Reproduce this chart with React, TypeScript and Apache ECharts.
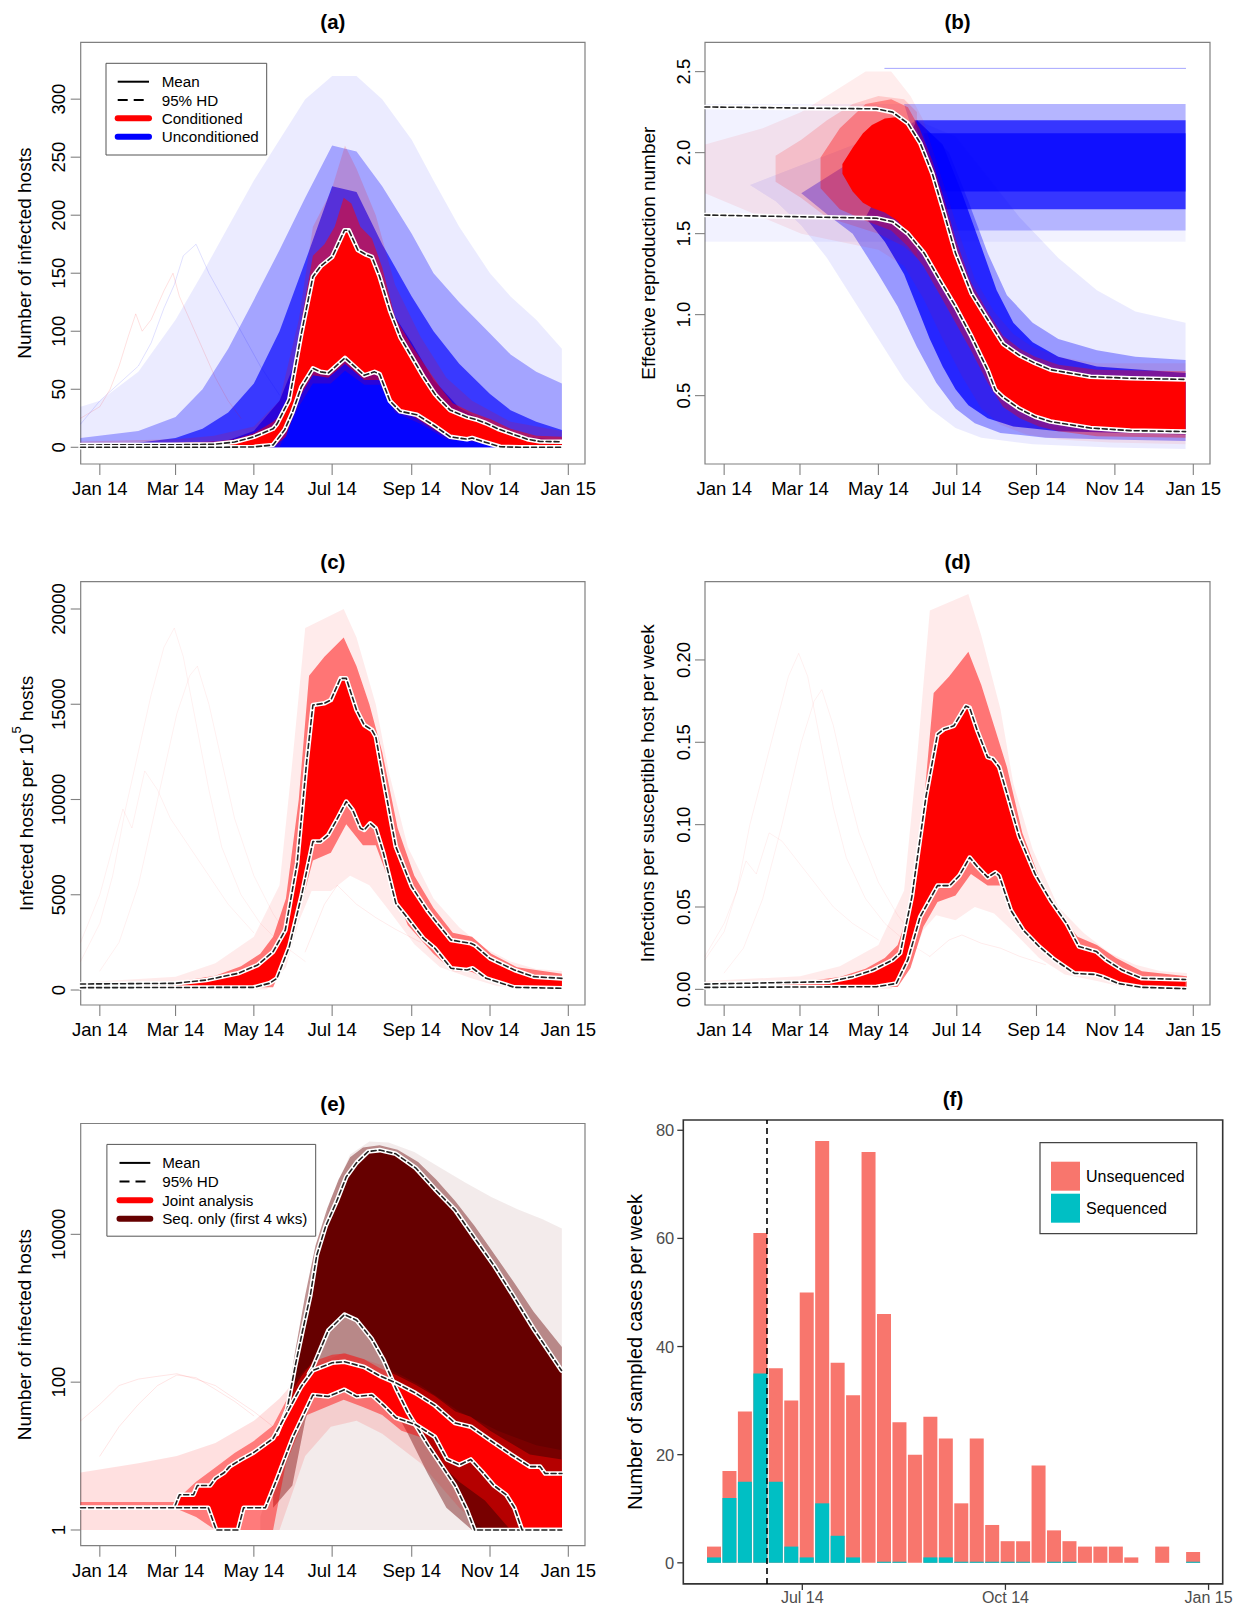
import React, { useEffect, useRef } from 'react';
import * as echarts from 'echarts';

// ---------- axes ----------
const rTickDates = ['2014-01-01', '2014-03-01', '2014-05-01', '2014-07-01', '2014-09-01', '2014-11-01', '2015-01-01'];
const rTickLabels = ['Jan 14', 'Mar 14', 'May 14', 'Jul 14', 'Sep 14', 'Nov 14', 'Jan 15'];
const fTickDates = ['2014-07-01', '2014-10-01', '2015-01-01'];
const fTickLabels = ['Jul 14', 'Oct 14', 'Jan 15'];
const aTicks = [0, 50, 100, 150, 200, 250, 300];
const bTicks = [0.5, 1.0, 1.5, 2.0, 2.5];
const cTicks = [0, 5000, 10000, 15000, 20000];
const dTicks = [0, 0.05, 0.1, 0.15, 0.2];
const eTicks = [1, 100, 10000];
const fTicks = [0, 20, 40, 60, 80];

// ---------- panel (a): infected hosts, [day of 2014, value] ----------
const aUpperHD = [[-15, 2], [60, 2.2], [89, 2.6], [105, 4.5], [120, 9], [135, 16], [138, 20], [147.6, 41], [157, 98], [166, 147], [172, 156], [181, 164], [190.6, 187], [194, 187], [201, 170], [207.5, 166], [212, 164], [218, 147], [226, 118], [234, 95], [243, 78], [252, 61], [261, 46], [265, 41], [273, 32], [286, 26], [293, 24], [301, 20.7], [310, 16], [320, 12], [333, 7], [343, 5], [360, 4.8]];
const aLowerHD = [[-15, 0], [89, 0], [120, 0.3], [135, 2], [144, 15], [150, 30], [157, 52], [166, 68], [172, 65], [178, 64], [191, 77], [200, 68], [206, 62], [214, 65], [218, 63], [226, 40], [234, 31], [247, 28], [260, 19], [273, 9], [286, 7], [290, 8], [299, 4.8], [312, 0.5], [327, 0], [360, 0]];
const aBlueFaint = [[-15, 35], [0, 40], [30, 65], [59, 110], [80, 150], [100, 190], [120, 230], [140, 265], [160, 300], [181, 320], [200, 320], [220, 300], [243, 265], [260, 230], [280, 190], [304, 150], [320, 130], [340, 110], [360, 85]];
const aBlueMid = [[-15, 8], [30, 14], [59, 26], [80, 50], [100, 85], [120, 127], [140, 170], [160, 215], [181, 260], [200, 255], [220, 225], [243, 184], [260, 150], [280, 125], [304, 98], [320, 80], [340, 65], [360, 55]];
const aBlueDense = [[-15, 3], [30, 4], [59, 8], [80, 16], [100, 30], [120, 55], [140, 100], [160, 160], [181, 225], [200, 220], [220, 175], [243, 130], [260, 100], [280, 72], [304, 46], [320, 32], [340, 22], [360, 15]];
const aBlueCore = [[-15, 1], [59, 2], [100, 6], [120, 14], [140, 40], [160, 95], [181, 150], [200, 160], [220, 130], [243, 90], [260, 58], [280, 34], [304, 19], [320, 12], [340, 8], [360, 6]];
const aRedFaintUpper = [[-15, 5], [59, 7], [89, 10], [120, 18], [140, 40], [155, 110], [166, 190], [180, 220], [191, 260], [200, 240], [215, 200], [230, 140], [250, 95], [270, 60], [290, 40], [320, 22], [360, 14]];
const aRedFaintLower = [[-15, 0], [140, 0], [155, 35], [166, 55], [180, 55], [191, 66], [206, 54], [218, 54], [230, 30], [250, 20], [270, 7], [290, 5], [310, 0], [360, 0]];
const aRedFuzzUpper = [[-15, 3], [59, 4], [89, 5], [105, 7], [120, 12], [135, 22], [145, 32], [152, 60], [158, 115], [166, 165], [175, 175], [183, 190], [190, 215], [196, 210], [203, 190], [212, 180], [220, 155], [230, 112], [243, 88], [255, 68], [265, 52], [275, 38], [290, 30], [305, 24], [320, 16], [340, 10], [360, 9]];
const aRedFuzzLower = [[-15, 0], [135, 0], [145, 9], [155, 42], [166, 62], [178, 60], [191, 72], [206, 58], [218, 58], [230, 35], [245, 26], [261, 15], [274, 7], [290, 6], [304, 2], [360, 0]];
const aFaintRed1 = [[-15, 25], [0, 35], [8, 50], [15, 70], [22, 95], [28, 115], [33, 100], [40, 110], [50, 135], [57, 150], [62, 130], [70, 110], [80, 85], [90, 60], [100, 40], [110, 25]];
const aFaintBlue1 = [[-15, 20], [0, 40], [15, 55], [30, 70], [40, 90], [50, 120], [58, 140], [65, 165], [75, 175], [85, 150], [95, 130], [110, 100], [125, 70], [140, 45]];

// ---------- panel (b): effective reproduction number ----------
const bUpperHD = [[-15, 2.282], [118.6, 2.27], [131, 2.25], [143, 2.18], [152.5, 2.06], [162, 1.87], [171, 1.63], [180, 1.38], [192.5, 1.13], [205, 0.97], [217, 0.82], [229.5, 0.75], [242, 0.70], [254, 0.66], [285, 0.617], [316, 0.607], [359, 0.60]];
const bLowerHD = [[-15, 1.615], [118.6, 1.595], [131, 1.574], [143, 1.50], [155.6, 1.38], [168, 1.21], [180, 1.05], [192.5, 0.864], [205, 0.658], [211, 0.535], [217, 0.49], [229.5, 0.42], [242, 0.37], [254, 0.34], [285, 0.30], [316, 0.284], [359, 0.278]];
const bFlatFaintLower = [[-15, 1.45], [359, 1.45]];
const bFlatFaintUpper = [[-15, 2.3], [359, 2.3]];
const bFlatMidLower = [[170, 1.52], [359, 1.52]];
const bFlatMidUpper = [[140, 2.3], [359, 2.3]];
const bFlatCoreLower = [[168, 1.65], [359, 1.65]];
const bFlatCoreUpper = [[148, 2.2], [359, 2.2]];
const bFlatInnerLower = [[168, 1.76], [359, 1.76]];
const bFlatInnerUpper = [[155, 2.12], [359, 2.12]];
const bTopLine = [[125, 2.52], [359, 2.52]];
const bLobeFaintUpper = [[150, 2.2], [180, 2.1], [200, 1.9], [230, 1.6], [260, 1.35], [290, 1.15], [320, 1.02], [359, 0.95]];
const bLobeFaintLower = [[20, 1.8], [40, 1.7], [60, 1.55], [80, 1.35], [100, 1.1], [120, 0.85], [140, 0.6], [160, 0.42], [180, 0.3], [200, 0.24], [240, 0.2], [300, 0.18], [359, 0.17]];
const bLobeMidUpper = [[150, 2.2], [175, 2.0], [190, 1.7], [205, 1.38], [220, 1.12], [240, 0.95], [260, 0.85], [290, 0.78], [320, 0.74], [359, 0.72]];
const bLobeMidLower = [[60, 1.75], [80, 1.62], [100, 1.5], [120, 1.25], [135, 1.05], [150, 0.8], [165, 0.58], [180, 0.42], [195, 0.33], [215, 0.27], [250, 0.24], [300, 0.23], [359, 0.22]];
const bLobeCoreUpper = [[150, 2.2], [170, 2.05], [185, 1.75], [200, 1.42], [212, 1.15], [225, 0.95], [240, 0.83], [260, 0.74], [290, 0.68], [359, 0.64]];
const bLobeCoreLower = [[110, 1.6], [125, 1.45], [140, 1.25], [150, 1.05], [160, 0.85], [170, 0.68], [180, 0.54], [190, 0.44], [205, 0.36], [225, 0.31], [260, 0.28], [359, 0.26]];
const bRedFaintUpper = [[-15, 2.05], [30, 2.15], [60, 2.25], [90, 2.4], [110, 2.5], [130, 2.5], [145, 2.35], [155, 2.2], [165, 1.95], [175, 1.7], [185, 1.45], [195, 1.22], [210, 1.02], [225, 0.88], [240, 0.8], [260, 0.74], [290, 0.7], [359, 0.7]];
const bRedFaintLower = [[-15, 1.75], [30, 1.6], [60, 1.5], [90, 1.45], [120, 1.4], [140, 1.3], [155, 1.1], [170, 0.85], [185, 0.62], [200, 0.42], [215, 0.32], [235, 0.26], [260, 0.23], [300, 0.21], [359, 0.2]];
const bRedHazeUpper = [[40, 1.98], [60, 2.08], [80, 2.2], [100, 2.3], [120, 2.35], [140, 2.33], [150, 2.25]];
const bRedHazeLower = [[40, 1.82], [60, 1.72], [80, 1.6], [100, 1.55], [120, 1.5], [140, 1.42], [150, 1.35]];
const bRedFuzzUpper = [[75, 1.97], [90, 2.15], [110, 2.3], [130, 2.33], [143, 2.28], [152, 2.15], [162, 1.95], [171, 1.72], [180, 1.47], [192, 1.2], [205, 1.02], [217, 0.87], [230, 0.79], [242, 0.74], [260, 0.69], [290, 0.66], [359, 0.65]];
const bRedFuzzLower = [[75, 1.78], [90, 1.65], [110, 1.58], [130, 1.52], [143, 1.42], [155, 1.3], [168, 1.12], [180, 0.95], [192, 0.78], [205, 0.58], [217, 0.43], [230, 0.36], [245, 0.31], [260, 0.28], [290, 0.25], [359, 0.24]];
const bRedCoreUpper = [[92, 1.93], [100, 2.03], [108, 2.12], [115, 2.17], [125, 2.21], [135, 2.22], [143, 2.18], [152.5, 2.06], [162, 1.87], [171, 1.63], [180, 1.38], [192.5, 1.13], [205, 0.97], [217, 0.82], [229.5, 0.75], [242, 0.70], [254, 0.66], [285, 0.617], [316, 0.607], [359, 0.60]];
const bRedCoreLower = [[92, 1.87], [100, 1.76], [108, 1.69], [115, 1.66], [125, 1.63], [135, 1.58], [143, 1.50], [155.6, 1.38], [168, 1.21], [180, 1.05], [192.5, 0.864], [205, 0.658], [211, 0.535], [217, 0.49], [229.5, 0.42], [242, 0.37], [254, 0.34], [285, 0.30], [316, 0.284], [359, 0.278]];

// ---------- panel (c): infected hosts per 1e5 ----------
const cUpperHD = [[-15, 315], [58, 350], [83, 525], [107.6, 875], [123, 1312], [135, 2012], [144.5, 3150], [153.7, 6650], [161, 11900], [166, 14960], [175, 15050], [180, 15225], [187.5, 16360], [192, 16360], [200, 14700], [206, 13910], [212, 13650], [215, 13300], [221, 11025], [230.6, 7525], [243, 5425], [255, 4200], [261, 3675], [273.6, 2625], [289, 2450], [292, 2360], [304, 1660], [323, 1050], [338, 700], [360, 612]];
const cLowerHD = [[-15, 122], [120, 140], [132, 350], [138, 612], [147.6, 2275], [157, 4900], [166, 7790], [172, 7790], [178, 8140], [184.5, 8925], [192, 9890], [197, 9450], [203, 8490], [206, 8400], [210.6, 8750], [215, 8490], [221, 7175], [230.6, 4550], [240, 3760], [252, 2710], [261, 2190], [273.6, 1140], [286, 1050], [290.5, 1140], [301, 612], [323, 140], [360, 90]];
const cRedFaintUpper = [[-15, 400], [59, 700], [90, 1400], [120, 2800], [140, 5500], [150, 12000], [160, 19000], [175, 19500], [190, 20000], [200, 18500], [215, 15000], [225, 11500], [240, 7500], [260, 4800], [280, 3300], [300, 2200], [320, 1500], [340, 1100], [360, 1000]];
const cRedFaintLower = [[-15, 30], [130, 30], [145, 1200], [155, 3600], [165, 5200], [180, 5200], [195, 6000], [210, 5500], [225, 4200], [245, 2400], [265, 1200], [290, 600], [310, 200], [360, 30]];
const cRedFuzzUpper = [[-15, 340], [59, 420], [90, 750], [110, 1250], [125, 1900], [135, 2800], [145, 4800], [155, 10000], [163, 16500], [175, 17500], [190, 18500], [200, 17000], [210, 15000], [220, 12500], [232, 8500], [245, 6000], [260, 4300], [275, 3000], [290, 2800], [305, 1900], [325, 1200], [360, 850]];
const cRedFuzzLower = [[-15, 100], [135, 150], [145, 1700], [155, 4000], [166, 6800], [180, 7200], [192, 8700], [205, 7600], [215, 7600], [225, 5800], [240, 3400], [260, 1900], [275, 1000], [290, 950], [305, 450], [330, 110], [360, 75]];
const cFaint1 = [[-15, 1500], [0, 3500], [10, 6000], [20, 9500], [30, 12500], [40, 15500], [50, 18000], [58, 19000], [65, 17500], [75, 14000], [85, 10500], [95, 7500], [110, 5000], [125, 3500], [140, 2500], [160, 1500]];
const cFaint2 = [[0, 1000], [15, 2500], [30, 5500], [45, 10000], [60, 14500], [70, 16500], [76, 17000], [85, 15000], [95, 12000], [105, 9000], [120, 6000], [135, 4000], [150, 2500]];
const cFaint3 = [[-15, 2500], [0, 5000], [10, 7500], [18, 9500], [25, 8500], [35, 11500], [45, 10500], [55, 9000], [70, 7500], [85, 6000], [100, 4500], [120, 3000]];
const cFaint4 = [[160, 2000], [175, 4500], [185, 5500], [200, 4500], [215, 3800], [230, 3200], [250, 2500]];

// ---------- panel (d): infections per susceptible host per week ----------
const dUpperHD = [[-15, 0.0032], [82, 0.0047], [100, 0.0077], [115.5, 0.0117], [131, 0.0178], [137, 0.022], [146, 0.056], [157, 0.117], [166, 0.155], [171, 0.158], [178.7, 0.160], [188, 0.172], [191, 0.171], [197, 0.157], [205, 0.141], [209, 0.140], [214, 0.135], [220, 0.119], [229.5, 0.093], [242, 0.070], [254, 0.054], [266.5, 0.040], [276, 0.026], [289.6, 0.023], [297, 0.018], [309.6, 0.0117], [325, 0.0067], [359, 0.006]];
const dLowerHD = [[-15, 0.0012], [118.6, 0.0016], [134, 0.0036], [143, 0.018], [152.5, 0.044], [166, 0.063], [175.6, 0.063], [183, 0.069], [191, 0.080], [197, 0.0745], [205, 0.068], [211, 0.071], [214, 0.069], [223, 0.048], [232.6, 0.036], [245, 0.026], [257, 0.018], [272.6, 0.0097], [288, 0.0091], [294, 0.0077], [306.5, 0.0036], [325, 0.0012], [359, 0.0004]];
const dRedFaintUpper = [[-15, 0.005], [59, 0.008], [90, 0.014], [120, 0.027], [140, 0.06], [150, 0.14], [160, 0.23], [175, 0.235], [190, 0.24], [200, 0.215], [215, 0.17], [225, 0.125], [240, 0.085], [260, 0.05], [280, 0.034], [300, 0.022], [320, 0.015], [340, 0.011], [360, 0.010]];
const dRedFaintLower = [[-15, 0.0003], [130, 0.0003], [145, 0.015], [155, 0.036], [165, 0.045], [180, 0.042], [195, 0.05], [210, 0.046], [225, 0.035], [245, 0.019], [265, 0.009], [290, 0.005], [310, 0.0015], [360, 0.0003]];
const dRedFuzzUpper = [[-15, 0.0036], [59, 0.0045], [90, 0.0075], [110, 0.0125], [125, 0.019], [135, 0.027], [145, 0.05], [155, 0.11], [163, 0.18], [175, 0.19], [190, 0.205], [200, 0.185], [210, 0.16], [220, 0.135], [232, 0.095], [245, 0.068], [260, 0.047], [275, 0.032], [290, 0.027], [305, 0.019], [325, 0.011], [360, 0.008]];
const dRedFuzzLower = [[-15, 0.001], [135, 0.0015], [145, 0.013], [155, 0.038], [166, 0.053], [180, 0.057], [192, 0.07], [205, 0.063], [215, 0.063], [225, 0.046], [240, 0.031], [260, 0.016], [275, 0.0085], [290, 0.0085], [305, 0.003], [330, 0.001], [360, 0.0003]];
const dFaint1 = [[-15, 0.018], [0, 0.035], [10, 0.06], [20, 0.1], [30, 0.13], [40, 0.16], [50, 0.19], [58, 0.204], [65, 0.19], [75, 0.15], [85, 0.11], [95, 0.08], [110, 0.055], [125, 0.04], [140, 0.03], [160, 0.02]];
const dFaint2 = [[0, 0.01], [15, 0.025], [30, 0.055], [45, 0.1], [60, 0.15], [70, 0.175], [76, 0.182], [85, 0.16], [95, 0.125], [105, 0.095], [120, 0.065], [135, 0.045], [150, 0.03]];
const dFaint3 = [[-15, 0.02], [0, 0.04], [10, 0.06], [17, 0.078], [25, 0.07], [35, 0.095], [45, 0.09], [55, 0.08], [70, 0.065], [85, 0.05], [100, 0.04], [120, 0.03]];
const dFaint4 = [[160, 0.02], [175, 0.03], [185, 0.033], [200, 0.028], [215, 0.025], [230, 0.02], [250, 0.015]];

// ---------- panel (e): joint vs sequence-only (log scale) ----------
const eJointUpper = [[-15, 2], [58, 2], [62, 3], [73, 3], [76, 4], [86, 4], [90, 5], [97, 6], [101, 7.2], [110, 9], [120, 11.2], [135, 17.3], [144.5, 35], [157, 88], [166, 144], [181, 183], [190.6, 189], [206, 160], [218, 122], [230.6, 98], [246, 71], [261, 48.5], [276.7, 28], [289, 25], [304, 16.4], [320, 10.6], [335, 7.2], [343, 7.2], [347, 5.8], [360, 5.8]];
const eJointLower = [[-15, 2], [84.5, 2], [90.7, 1], [107.6, 1], [112, 2], [129, 2], [138, 4.9], [150.6, 18.3], [166, 67], [178, 64], [190.6, 79], [200, 64], [212, 67], [221, 48.5], [230.6, 33], [246, 26.7], [261, 18.3], [270.5, 9], [280, 7.6], [289, 9], [298, 6.1], [307, 4], [316.6, 3], [323, 2], [329, 1], [360, 1]];
const eSeqUpper = [[138, 20], [146, 44], [152, 160], [158, 500], [164, 1500], [169, 5250], [176, 13000], [184.5, 28000], [192, 60000], [200, 93000], [209, 132000], [218, 138000], [230.6, 123000], [246, 79400], [261, 41000], [276.7, 21400], [292, 8900], [307.4, 3730], [322.8, 1410], [338, 525], [359.7, 144]];
const eSeqLower = [[163, 130], [166, 160], [178, 500], [190.6, 820], [200, 690], [212, 380], [221, 200], [230.6, 83], [240, 39], [255, 14.6], [276.7, 4], [286, 1.86], [292, 1], [360, 1]];
const eDarkFaintUpper = [[125, 1.5], [140, 10], [150, 80], [160, 800], [170, 6000], [180, 30000], [195, 120000], [210, 180000], [225, 175000], [245, 130000], [265, 80000], [285, 50000], [305, 32000], [325, 22000], [345, 16000], [360, 12000]];
const eDarkFaintLower = [[125, 1], [360, 1]];
const eDarkFuzzUpper = [[135, 5], [145, 40], [152, 250], [160, 1500], [168, 7000], [177, 22000], [186, 55000], [195, 110000], [205, 150000], [218, 160000], [232, 140000], [248, 95000], [262, 55000], [277, 28000], [292, 13000], [307, 5500], [323, 2200], [338, 900], [360, 300]];
const eDarkFuzzLower = [[135, 2], [150, 4], [160, 30], [170, 120], [190, 170], [210, 130], [225, 60], [240, 20], [255, 6], [270, 2], [290, 1], [360, 1]];
const eRedFaintUpper = [[-15, 6], [30, 8], [60, 10], [90, 15], [120, 30], [140, 60], [160, 150], [190, 250], [220, 170], [250, 90], [280, 40], [310, 22], [340, 14], [360, 12]];
const eRedFaintLower = [[-15, 1], [140, 1], [160, 10], [180, 25], [200, 30], [220, 20], [250, 8], [280, 2], [300, 1], [360, 1]];
const eRedFuzzUpper = [[-15, 2.4], [58, 2.4], [75, 4.5], [90, 7], [105, 11], [120, 16], [135, 26], [145, 55], [157, 120], [166, 190], [181, 235], [191, 245], [206, 205], [218, 155], [231, 125], [246, 92], [261, 65], [277, 40], [289, 34], [304, 22], [320, 15], [335, 10.5], [360, 9]];
const eRedFuzzLower = [[-15, 2], [58, 2], [75, 1.5], [90, 1], [135, 1], [145, 8], [160, 35], [175, 45], [190, 58], [205, 46], [220, 36], [235, 22], [250, 18], [265, 8], [280, 4.5], [300, 2.5], [320, 1], [360, 1]];
const eFaint1 = [[-15, 30], [0, 50], [15, 90], [30, 110], [45, 120], [60, 130], [75, 110], [90, 90], [105, 60], [120, 40], [135, 25]];
const eFaint2 = [[0, 10], [15, 25], [30, 50], [45, 90], [60, 125], [75, 115], [90, 80], [105, 55], [120, 35]];

// ---------- panel (f): sampled cases per week ----------
const fWeekStarts = ['2014-05-22', '2014-05-29', '2014-06-05', '2014-06-12', '2014-06-19', '2014-06-26', '2014-07-03', '2014-07-10', '2014-07-17', '2014-07-24', '2014-07-31', '2014-08-07', '2014-08-14', '2014-08-21', '2014-08-28', '2014-09-04', '2014-09-11', '2014-09-18', '2014-09-25', '2014-10-02', '2014-10-09', '2014-10-16', '2014-10-23', '2014-10-30', '2014-11-06', '2014-11-13', '2014-11-20', '2014-11-27', '2014-12-04', '2014-12-11', '2014-12-18', '2014-12-25'];
const fTotal = [3, 17, 28, 61, 36, 30, 50, 78, 37, 31, 76, 46, 26, 20, 27, 23, 11, 23, 7, 4, 4, 18, 6, 4, 3, 3, 3, 1, 0, 3, 0, 2];
const fSequenced = [1, 12, 15, 35, 15, 3, 1, 11, 5, 1, 0, 0.2, 0.2, 0, 1, 1, 0.2, 0.2, 0.2, 0.2, 0.2, 0, 0.2, 0.2, 0, 0, 0, 0, 0, 0, 0, 0.2];
const fCutoffDate = '2014-06-15';

// ---------- helpers ----------
const FONT = "'Liberation Sans', Arial, Helvetica, sans-serif";
const BOX = '#808080';
const RED = '#ff0000';
const BLUE = '#0000ff';
const DARK = '#660000';
const dayOf = (s: string) => {
  const [y, m, d] = s.split('-').map(Number);
  return (Date.UTC(y, m - 1, d) - Date.UTC(2014, 0, 1)) / 86400000;
};
const rTickDays = rTickDates.map(dayOf);
const fTickDays = fTickDates.map(dayOf);
const X_MIN = -14.9;
const X_MAX = 378;

const band = (g: number, lower: number[][], upper: number[][], color: string, opacity: number) => ({
  type: 'custom',
  xAxisIndex: g,
  yAxisIndex: g,
  silent: true,
  clip: true,
  data: [[lower[0][0], lower[0][1]]],
  renderItem: (_p: any, api: any) => ({
    type: 'polygon',
    shape: {
      points: [...upper.map((p) => api.coord(p)), ...[...lower].reverse().map((p) => api.coord(p))],
    },
    style: { fill: color, opacity },
  }),
});

const line = (g: number, pts: number[][], color: string, width: number, opacity = 1, type: any = 'solid') => ({
  type: 'line',
  xAxisIndex: g,
  yAxisIndex: g,
  data: pts,
  symbol: 'none',
  silent: true,
  clip: true,
  lineStyle: { color, width, opacity, type, cap: 'round', join: 'round' },
});

const hd = (g: number, pts: number[][]) => [line(g, pts, '#ffffff', 4.6), line(g, pts, '#222222', 1.6, 1, [5, 3])];

const hiddenX = (g: number, min: number, max: number) => ({
  type: 'value', gridIndex: g, position: 'bottom', min, max,
  axisLine: { show: false, onZero: false }, splitLine: { show: false }, axisTick: { show: false }, axisLabel: { show: false },
});

const namedY = (g: number, min: number, max: number, name: string, nameGap: number, extra: any = {}) => ({
  type: 'value', gridIndex: g, position: 'left', min, max,
  axisLine: { show: false, onZero: false }, splitLine: { show: false }, axisTick: { show: false }, axisLabel: { show: false },
  name, nameLocation: 'middle', nameRotate: 90, nameGap,
  nameTextStyle: { fontSize: 19, color: '#000', fontFamily: FONT },
  ...extra,
});

// tick + label specification for each panel (values are drawn through the axes' own scales)
const axisSpecs = [
  { g: 0, xVals: rTickDays, xText: rTickLabels, yVals: aTicks, yFmt: (v: number) => String(v), xMin: X_MIN, yMin: -14.4, kind: 'r' },
  { g: 1, xVals: rTickDays, xText: rTickLabels, yVals: bTicks, yFmt: (v: number) => v.toFixed(1), xMin: X_MIN, yMin: 0.078, kind: 'r' },
  { g: 2, xVals: rTickDays, xText: rTickLabels, yVals: cTicks, yFmt: (v: number) => String(v), xMin: X_MIN, yMin: -787, kind: 'r' },
  { g: 3, xVals: rTickDays, xText: rTickLabels, yVals: dTicks, yFmt: (v: number) => v.toFixed(2), xMin: X_MIN, yMin: -0.0095, kind: 'r' },
  { g: 4, xVals: rTickDays, xText: rTickLabels, yVals: eTicks, yFmt: (v: number) => String(v), xMin: X_MIN, yMin: 0.613, kind: 'r' },
  { g: 5, xVals: fTickDays, xText: fTickLabels, yVals: fTicks, yFmt: (v: number) => String(v), xMin: 127.1, yMin: -3.9, kind: 'f' },
];

const legendGraphic = (x0: number, y0: number, x1: number, y1: number, rowsY: number[], lx0: number, lx1: number, tx: number, entries: { label: string; color: string; width: number; dash?: number[] }[]) => ({
  type: 'group',
  children: [
    { type: 'rect', shape: { x: x0, y: y0, width: x1 - x0, height: y1 - y0 }, style: { fill: '#fff', stroke: '#555', lineWidth: 1 }, z: 100 },
    ...entries.flatMap((e, i) => [
      { type: 'line', shape: { x1: lx0, y1: rowsY[i], x2: lx1, y2: rowsY[i] }, style: { stroke: e.color, lineWidth: e.width, lineDash: e.dash, lineCap: e.width > 3 ? 'round' : 'butt' }, z: 101 },
      { type: 'text', x: tx, y: rowsY[i], style: { text: e.label, fontSize: 15.2, fontFamily: FONT, fill: '#000', align: 'left', verticalAlign: 'middle' }, z: 101 },
    ]),
  ],
});

const titleText = (x: number, y: number, text: string) => ({
  type: 'text',
  x,
  y,
  style: { text, fontSize: 20.5, fontWeight: 'bold', fontFamily: FONT, fill: '#000', align: 'center', verticalAlign: 'middle' },
});

const gridBase = (left: number, top: number, width: number, height: number, color = BOX, bw = 1.2) => ({
  left, top, width, height, show: true, borderColor: color, borderWidth: bw, backgroundColor: 'transparent', containLabel: false, outerBoundsMode: 'none',
});

export default function App() {
  const ref = useRef<HTMLDivElement>(null);
  useEffect(() => {
    if (!ref.current) return;
    document.body.style.margin = '0';
    const chart = echarts.init(ref.current, undefined, { renderer: 'svg' });

    const fDays = fWeekStarts.map(dayOf);
    const fSeqData = fDays.map((d, i) => [d, fSequenced[i]]);
    // unsequenced cases sit on top of the sequenced ones: draw the full stack height behind the sequenced part
    const fUnseqTopData = fDays.map((d, i) => [d, fSequenced[i] + Math.max(0, fTotal[i] - fSequenced[i])]);

    const series: any[] = [
      // (a)
      band(0, [[-15, 0], [360, 0]], aBlueFaint, BLUE, 0.08),
      line(0, aFaintBlue1, BLUE, 1, 0.12),
      band(0, [[-15, 0], [360, 0]], aBlueMid, BLUE, 0.3),
      band(0, [[-15, 0], [360, 0]], aBlueDense, BLUE, 0.65),
      band(0, [[-15, 0], [360, 0]], aBlueCore, BLUE, 0.9),
      line(0, aFaintRed1, RED, 1, 0.12),
      band(0, aRedFaintLower, aRedFaintUpper, RED, 0.15),
      band(0, aRedFuzzLower, aRedFuzzUpper, RED, 0.5),
      band(0, aLowerHD, aUpperHD, RED, 1),
      ...hd(0, aUpperHD),
      ...hd(0, aLowerHD),
      // (b)
      band(1, bFlatFaintLower, bFlatFaintUpper, BLUE, 0.05),
      band(1, bFlatMidLower, bFlatMidUpper, BLUE, 0.25),
      band(1, bFlatCoreLower, bFlatCoreUpper, BLUE, 0.7),
      band(1, bFlatInnerLower, bFlatInnerUpper, BLUE, 0.7),
      line(1, bTopLine, BLUE, 1, 0.35),
      band(1, bLobeFaintLower, bLobeFaintUpper, BLUE, 0.08),
      band(1, bLobeMidLower, bLobeMidUpper, BLUE, 0.35),
      band(1, bLobeCoreLower, bLobeCoreUpper, BLUE, 0.75),
      band(1, bRedFaintLower, bRedFaintUpper, RED, 0.07),
      band(1, bRedHazeLower, bRedHazeUpper, RED, 0.15),
      band(1, bRedFuzzLower, bRedFuzzUpper, RED, 0.35),
      band(1, bRedCoreLower, bRedCoreUpper, RED, 1),
      ...hd(1, bUpperHD),
      ...hd(1, bLowerHD),
      // (c)
      line(2, cFaint1, RED, 1, 0.06),
      line(2, cFaint2, RED, 1, 0.06),
      line(2, cFaint3, RED, 1, 0.06),
      line(2, cFaint4, RED, 1, 0.08),
      band(2, cRedFaintLower, cRedFaintUpper, RED, 0.08),
      band(2, cRedFuzzLower, cRedFuzzUpper, RED, 0.5),
      band(2, cLowerHD, cUpperHD, RED, 1),
      ...hd(2, cUpperHD),
      ...hd(2, cLowerHD),
      // (d)
      line(3, dFaint1, RED, 1, 0.06),
      line(3, dFaint2, RED, 1, 0.06),
      line(3, dFaint3, RED, 1, 0.06),
      line(3, dFaint4, RED, 1, 0.08),
      band(3, dRedFaintLower, dRedFaintUpper, RED, 0.08),
      band(3, dRedFuzzLower, dRedFuzzUpper, RED, 0.5),
      band(3, dLowerHD, dUpperHD, RED, 1),
      ...hd(3, dUpperHD),
      ...hd(3, dLowerHD),
      // (e)
      line(4, eFaint1, RED, 1, 0.1),
      line(4, eFaint2, RED, 1, 0.1),
      band(4, eDarkFaintLower, eDarkFaintUpper, DARK, 0.08),
      band(4, eDarkFuzzLower, eDarkFuzzUpper, DARK, 0.42),
      band(4, eSeqLower, eSeqUpper, DARK, 1),
      band(4, eRedFaintLower, eRedFaintUpper, RED, 0.12),
      band(4, eRedFuzzLower, eRedFuzzUpper, RED, 0.45),
      band(4, eJointLower, eJointUpper, RED, 1),
      ...hd(4, eSeqUpper),
      ...hd(4, eSeqLower),
      ...hd(4, eJointUpper),
      ...hd(4, eJointLower),
      // (f)
      {
        type: 'bar',
        name: 'Unsequenced',
        xAxisIndex: 5,
        yAxisIndex: 5,
        barWidth: 14,
        barGap: '-100%',
        data: fUnseqTopData,
        itemStyle: { color: '#F8766D' },
        silent: true,
      },
      {
        type: 'bar',
        name: 'Sequenced',
        xAxisIndex: 5,
        yAxisIndex: 5,
        barWidth: 14,
        barGap: '-100%',
        data: fSeqData,
        itemStyle: { color: '#00BFC4' },
        silent: true,
        markLine: {
          silent: true,
          symbol: ['none', 'none'],
          label: { show: false },
          lineStyle: { color: '#000', type: [6, 4], width: 1.6 },
          data: [{ xAxis: dayOf(fCutoffDate) }],
        },
      },
    ];

    const baseGraphic: any[] = [
      titleText(332.9, 21.7, '(a)'),
      titleText(957.5, 21.7, '(b)'),
      titleText(332.9, 561.7, '(c)'),
      titleText(957.5, 561.7, '(d)'),
      titleText(332.9, 1103.6, '(e)'),
      titleText(953, 1098.4, '(f)'),
      legendGraphic(106, 63.3, 266.7, 155, [81.7, 100, 118.3, 136.7], 117.7, 149, 161.7, [
        { label: 'Mean', color: '#000', width: 2 },
        { label: '95% HD', color: '#000', width: 2, dash: [10, 6] },
        { label: 'Conditioned', color: RED, width: 6 },
        { label: 'Unconditioned', color: BLUE, width: 6 },
      ]),
      legendGraphic(106.9, 1144.4, 315.7, 1236.2, [1162.9, 1181.4, 1200.3, 1218.8], 119.5, 150.3, 162.2, [
        { label: 'Mean', color: '#000', width: 2 },
        { label: '95% HD', color: '#000', width: 2, dash: [10, 6] },
        { label: 'Joint analysis', color: RED, width: 6 },
        { label: 'Seq. only (first 4 wks)', color: DARK, width: 6 },
      ]),
    ];

    const option: any = {
      animation: false,
      backgroundColor: '#ffffff',
      textStyle: { fontFamily: FONT },
      grid: [
        gridBase(80.7, 42.3, 504.3, 421.7),
        gridBase(705, 42.3, 505, 421.7),
        gridBase(80.7, 581.7, 504.3, 423.3),
        gridBase(705, 581.7, 505, 423.3),
        gridBase(80.7, 1123.5, 504.3, 422.2),
        gridBase(683.3, 1120, 539.4, 463.9, '#333333', 1.6),
      ],
      xAxis: [
        hiddenX(0, X_MIN, X_MAX), hiddenX(1, X_MIN, X_MAX), hiddenX(2, X_MIN, X_MAX), hiddenX(3, X_MIN, X_MAX), hiddenX(4, X_MIN, X_MAX),
        hiddenX(5, 127.1, 371.4),
      ],
      yAxis: [
        namedY(0, -14.4, 349, 'Number of infected hosts', 46.7),
        namedY(1, 0.078, 2.681, 'Effective reproduction number', 47.5),
        namedY(2, -787, 21433, '{n|Infected hosts per 10}{s|5}{n| hosts}', 45, {
          nameTextStyle: {
            fontSize: 19,
            color: '#000',
            fontFamily: FONT,
            rich: {
              n: { fontSize: 19, lineHeight: 26, verticalAlign: 'bottom', fontFamily: FONT, color: '#000' },
              s: { fontSize: 13, lineHeight: 14, verticalAlign: 'top', fontFamily: FONT, color: '#000' },
            },
          },
        }),
        namedY(3, -0.0095, 0.2475, 'Infections per susceptible host per week', 48),
        namedY(4, 0.613, 316000, 'Number of infected hosts', 46.7, { type: 'log', logBase: 10 }),
        namedY(5, -3.9, 81.9, 'Number of sampled cases per week', 38.8, { nameTextStyle: { fontSize: 19.8, color: '#000', fontFamily: FONT } }),
      ],
      legend: [
        {
          data: ['Unsequenced', 'Sequenced'],
          orient: 'vertical',
          left: 1040,
          top: 1142.7,
          itemWidth: 29,
          itemHeight: 29,
          itemGap: 3,
          icon: 'rect',
          padding: [19, 12, 11, 11],
          borderColor: '#444',
          borderWidth: 1.2,
          backgroundColor: '#fff',
          selectedMode: false,
          textStyle: { fontSize: 16, color: '#000', fontFamily: FONT, padding: [0, 0, 0, 1] },
        },
      ],
      graphic: baseGraphic,
      series,
    };
    chart.setOption(option);

    // ticks and tick labels, positioned through each grid's scales
    const axisGraphic: any[] = [];
    axisSpecs.forEach((s) => {
      const isR = s.kind === 'r';
      const tickColor = isR ? BOX : '#333333';
      const xLen = isR ? 11 : 6;
      const yLen = isR ? 10 : 6;
      s.xVals.forEach((v, i) => {
        const p = chart.convertToPixel({ gridIndex: s.g } as any, [v, s.yMin]) as number[];
        axisGraphic.push({ type: 'line', silent: true, shape: { x1: p[0], y1: p[1], x2: p[0], y2: p[1] + xLen }, style: { stroke: tickColor, lineWidth: isR ? 1.1 : 1.3 } });
        axisGraphic.push({
          type: 'text', silent: true, x: p[0], y: p[1] + (isR ? 24.3 : 13.5),
          style: { text: s.xText[i], fontSize: isR ? 18.5 : 16, fontFamily: FONT, fill: isR ? '#000' : '#4D4D4D', align: 'center', verticalAlign: 'middle' },
        });
      });
      s.yVals.forEach((v) => {
        const p = chart.convertToPixel({ gridIndex: s.g } as any, [s.xMin, v]) as number[];
        axisGraphic.push({ type: 'line', silent: true, shape: { x1: p[0] - yLen, y1: p[1], x2: p[0], y2: p[1] }, style: { stroke: tickColor, lineWidth: isR ? 1.1 : 1.3 } });
        if (isR) {
          axisGraphic.push({
            type: 'text', silent: true, x: p[0] - 22, y: p[1], rotation: Math.PI / 2,
            style: { text: s.yFmt(v), fontSize: 18.5, fontFamily: FONT, fill: '#000', align: 'center', verticalAlign: 'middle' },
          });
        } else {
          axisGraphic.push({
            type: 'text', silent: true, x: p[0] - 9, y: p[1],
            style: { text: s.yFmt(v), fontSize: 16.5, fontFamily: FONT, fill: '#4D4D4D', align: 'right', verticalAlign: 'middle' },
          });
        }
      });
    });
    chart.setOption({ graphic: [...baseGraphic, ...axisGraphic] });

    return () => chart.dispose();
  }, []);

  return <div ref={ref} style={{ position: 'absolute', left: 0, top: 0, width: 1235, height: 1607 }} />;
}
